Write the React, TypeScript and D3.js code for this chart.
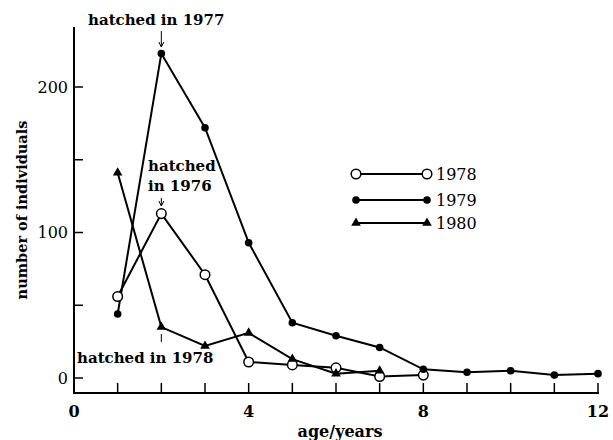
import React, { useEffect, useRef } from 'react';
import * as d3 from 'd3';

// ages (years) and counts
const ages = [1, 2, 3, 4, 5, 6, 7, 8, 9, 10, 11, 12];
const counts1978 = [56, 113, 71, 11, 9, 7, 1, 2];
const counts1979 = [44, 223, 172, 93, 38, 29, 21, 6, 4, 5, 2, 3];
const counts1980 = [141, 35, 22, 31, 13, 3, 5];
const yTickValues = [0, 50, 100, 150, 200];
const yTickLabels = ['0', '', '100', '', '200'];
const xTickLabels = ['0', '4', '8', '12'];
const legendYears = ['1978', '1979', '1980'];

type Pt = { age: number; n: number };
const toPts = (vals: number[]): Pt[] => vals.map((n, i) => ({ age: ages[i], n }));

const App: React.FC = () => {
  const svgRef = useRef<SVGSVGElement>(null);

  useEffect(() => {
    if (!svgRef.current) return;
    const svg = d3.select(svgRef.current);
    svg.selectAll('*').remove();

    const font = 'DejaVu Serif';
    const x = d3.scaleLinear().domain([0, 12]).range([74, 598]);
    const y = d3.scaleLinear().domain([0, 200]).range([378, 87]);
    const baseY = 393;

    // axes lines
    svg.append('line')
      .attr('x1', x(0)).attr('x2', x(0))
      .attr('y1', baseY).attr('y2', 27)
      .attr('stroke', '#000').attr('stroke-width', 2);
    svg.append('line')
      .attr('x1', x(0) - 1).attr('x2', x(12) + 1)
      .attr('y1', baseY).attr('y2', baseY)
      .attr('stroke', '#000').attr('stroke-width', 2);

    // y ticks (inside)
    yTickValues.forEach((v, i) => {
      svg.append('line')
        .attr('x1', x(0)).attr('x2', x(0) + 9)
        .attr('y1', y(v)).attr('y2', y(v))
        .attr('stroke', '#000').attr('stroke-width', 1.5);
      if (yTickLabels[i]) {
        svg.append('text')
          .attr('x', x(0) - 6).attr('y', y(v))
          .attr('dy', '0.36em')
          .attr('text-anchor', 'end')
          .attr('font-family', font).attr('font-size', 16)
          .text(yTickLabels[i]);
      }
    });

    // x ticks (upward)
    d3.range(1, 13).forEach(a => {
      svg.append('line')
        .attr('x1', x(a)).attr('x2', x(a))
        .attr('y1', baseY).attr('y2', baseY - 10)
        .attr('stroke', '#000').attr('stroke-width', 1.5);
    });
    xTickLabels.forEach(t => {
      svg.append('text')
        .attr('x', x(+t)).attr('y', 417)
        .attr('text-anchor', 'middle')
        .attr('font-family', font).attr('font-size', 16).attr('font-weight', 'bold')
        .text(t);
    });

    // axis titles
    svg.append('text')
      .attr('x', 340).attr('y', 437)
      .attr('text-anchor', 'middle')
      .attr('font-family', font).attr('font-size', 16).attr('font-weight', 'bold')
      .text('age/years');
    svg.append('text')
      .attr('transform', 'translate(27,210) rotate(-90)')
      .attr('text-anchor', 'middle')
      .attr('font-family', font).attr('font-size', 14.5).attr('font-weight', 'bold')
      .text('number of individuals');

    const line = d3.line<Pt>().x(d => x(d.age)).y(d => y(d.n));
    const series = [
      { pts: toPts(counts1978), kind: 'open' },
      { pts: toPts(counts1979), kind: 'filled' },
      { pts: toPts(counts1980), kind: 'tri' },
    ];

    const triangle = d3.symbol().type(d3.symbolTriangle).size(40);

    const drawMarker = (g: d3.Selection<SVGGElement, unknown, null, undefined>, cx: number, cy: number, kind: string) => {
      if (kind === 'open') {
        g.append('circle').attr('cx', cx).attr('cy', cy).attr('r', 4.8)
          .attr('fill', '#fff').attr('stroke', '#000').attr('stroke-width', 1.5);
      } else if (kind === 'filled') {
        g.append('circle').attr('cx', cx).attr('cy', cy).attr('r', 3.8).attr('fill', '#000');
      } else {
        g.append('path').attr('d', triangle() as string)
          .attr('transform', `translate(${cx},${cy})`).attr('fill', '#000');
      }
    };

    series.forEach(s => {
      svg.append('path')
        .datum(s.pts)
        .attr('fill', 'none')
        .attr('stroke', '#000')
        .attr('stroke-width', 2)
        .attr('d', line);
    });
    series.forEach(s => {
      const g = svg.append('g');
      s.pts.forEach(p => drawMarker(g, x(p.age), y(p.n), s.kind));
    });

    // legend
    const legendY = [174, 200, 223];
    series.forEach((s, i) => {
      const g = svg.append('g');
      g.append('line')
        .attr('x1', 356).attr('x2', 427)
        .attr('y1', legendY[i]).attr('y2', legendY[i])
        .attr('stroke', '#000').attr('stroke-width', 2);
      drawMarker(g, 356, legendY[i], s.kind);
      drawMarker(g, 427, legendY[i], s.kind);
      g.append('text')
        .attr('x', 436).attr('y', legendY[i])
        .attr('dy', '0.36em')
        .attr('font-family', font).attr('font-size', 16)
        .text(legendYears[i]);
    });

    // annotations
    const ann = (txt: string, tx: number, ty: number) =>
      svg.append('text')
        .attr('x', tx).attr('y', ty)
        .attr('font-family', font).attr('font-size', 15).attr('font-weight', 'bold')
        .text(txt);
    ann('hatched in 1977', 88, 25);
    ann('hatched', 148, 171);
    ann('in 1976', 148, 191);
    ann('hatched in 1978', 77, 363);

    const arrow = (ax: number, y1: number, y2: number) => {
      svg.append('line')
        .attr('x1', ax).attr('x2', ax).attr('y1', y1).attr('y2', y2)
        .attr('stroke', '#000').attr('stroke-width', 1);
      const dir = y2 > y1 ? -1 : 1;
      svg.append('path')
        .attr('d', `M${ax - 2.5},${y2 + dir * 5} L${ax},${y2} L${ax + 2.5},${y2 + dir * 5}`)
        .attr('fill', 'none').attr('stroke', '#000').attr('stroke-width', 1);
    };
    arrow(x(2), 31, 47);
    arrow(x(2), 198, 206);
    svg.append('line')
      .attr('x1', x(2)).attr('x2', x(2)).attr('y1', 334).attr('y2', 342)
      .attr('stroke', '#000').attr('stroke-width', 1);
  }, []);

  return (
    <svg
      ref={svgRef}
      width={613}
      height={440}
      style={{ position: 'absolute', left: 0, top: 0, background: '#fff' }}
    />
  );
};

export default App;
